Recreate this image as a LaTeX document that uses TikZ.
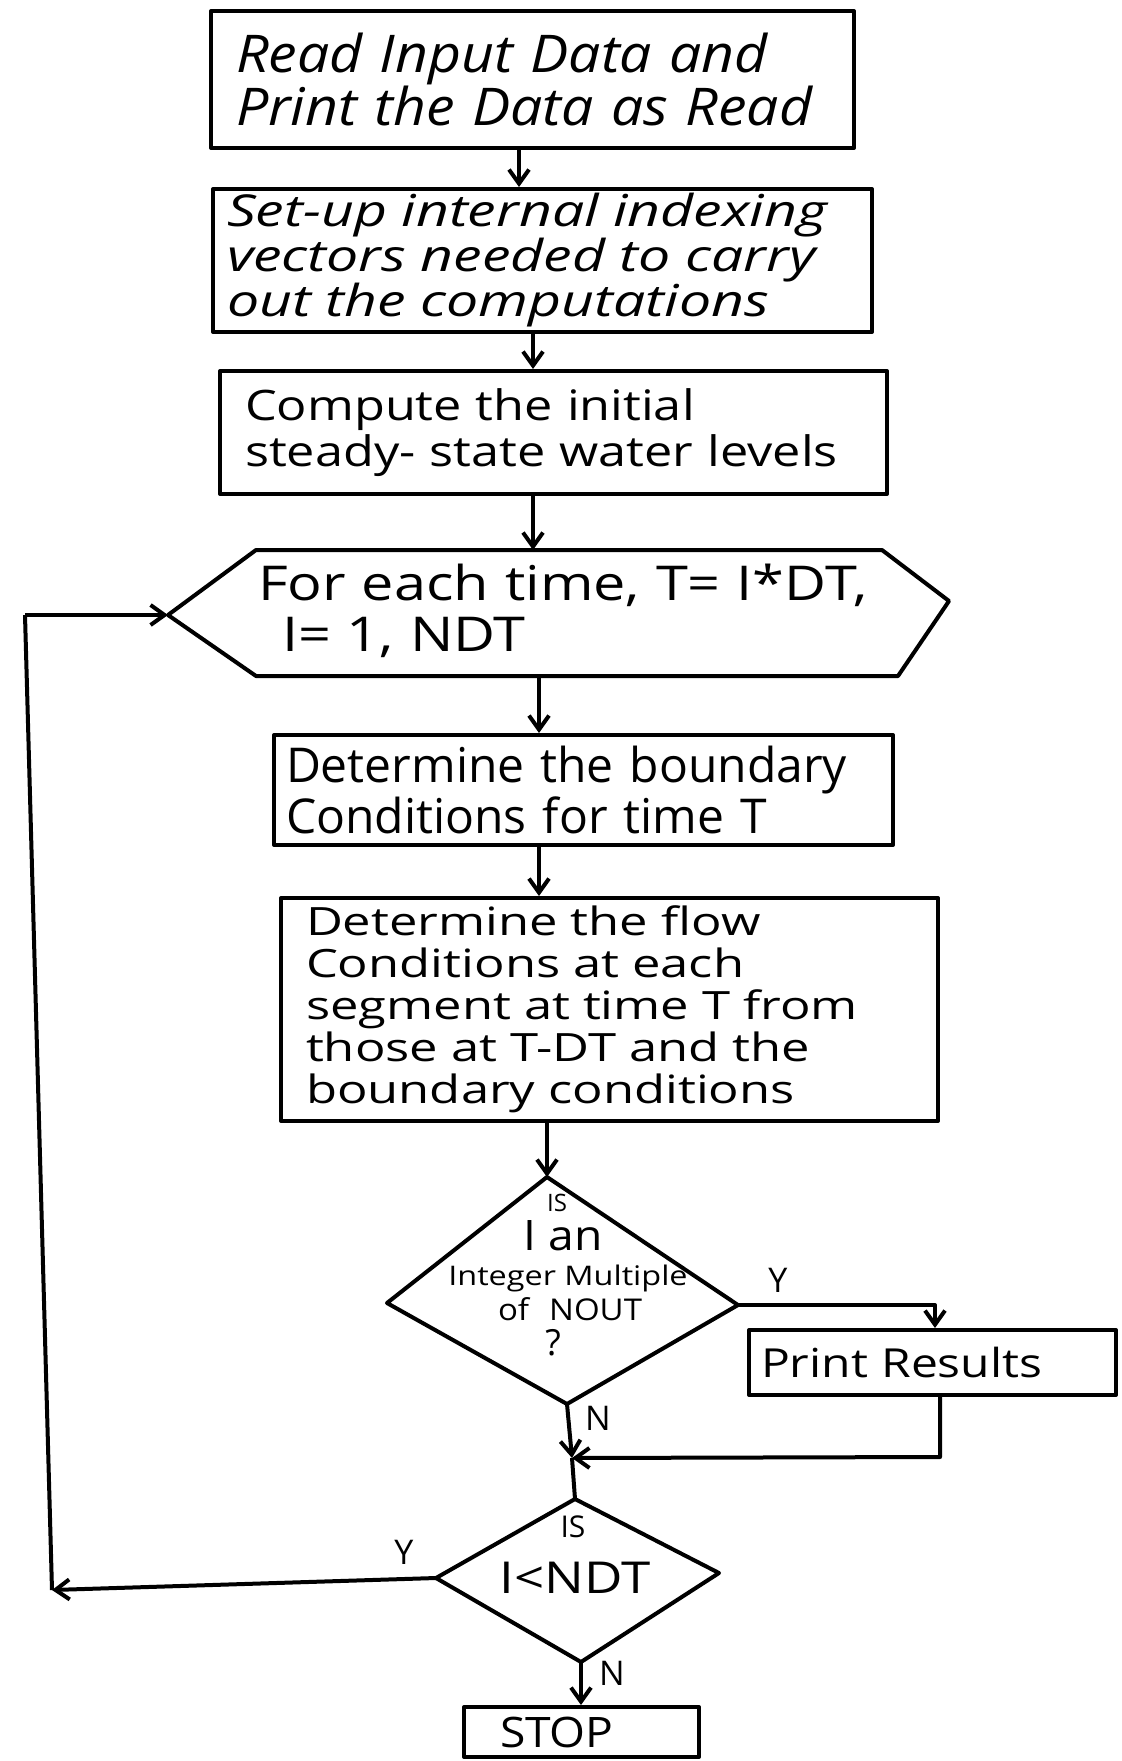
\documentclass[tikz,border=0pt]{standalone}
\usepackage{fontspec}
\setmainfont{Open Sans}
\newfontfamily\wA[FakeStretch=1.1]{Open Sans}
\newfontfamily\wB[FakeStretch=1.2]{Open Sans}
\newfontfamily\wC[FakeStretch=1.3]{Open Sans}
\usetikzlibrary{arrows.meta}
\newcommand{\fsz}[2]{\fontsize{#1}{#2}\selectfont}
\begin{document}
\begin{tikzpicture}[x=0.5pt,y=-0.5pt,
  line width=2pt, line join=round,
  procbox/.style={draw, rectangle, inner sep=0pt, align=left},
  flow/.style={-{Straight Barb[length=7pt,width=10pt]}},
  plain/.style={inner sep=0pt},
  lbl/.style={inner sep=0pt, font=\fsz{17}{17}}
]
\useasboundingbox (0,0) rectangle (1122,1761);

% --- process boxes ---
\node[procbox, minimum width=321.5pt, minimum height=68.5pt, text width=296.5pt,
      font=\wA\itshape\fsz{26}{25.5}] (read) at (532.5,79.5)
  {\mbox{Read Input Data and}\\\mbox{Print the Data as Read}};

\node[procbox, minimum width=329.5pt, minimum height=71.5pt, text width=315.5pt,
      font=\wC\itshape\fsz{22}{22.5}] (setup) at (542.5,260.5)
  {\mbox{Set-up internal indexing}\\\mbox{vectors needed to carry}\\\mbox{out the computations}};

\node[procbox, minimum width=333.5pt, minimum height=61.5pt, text width=308.5pt,
      font=\wB\fsz{21}{23}] (steady) at (553.5,432.5)
  {\mbox{Compute the initial}\\\mbox{steady- state water levels}};

% --- loop header (hexagon) ---
\coordinate (hexW) at (168,615);
\coordinate (hexE) at (949,601);
\coordinate (hexNW) at (256,550);
\coordinate (hexNE) at (882,550);
\coordinate (hexSE) at (898,676);
\coordinate (hexSW) at (256,676);
\draw (hexW) -- (hexNW) -- (hexNE) -- (hexE) -- (hexSE) -- (hexSW) -- cycle;
\node[plain, align=left, text width=310pt, font=\wB\fsz{24}{25.5}] (loop) at (568,611)
  {\mbox{For each time, T= I*DT,}\\\hspace*{12pt}I= 1, NDT};
\coordinate (hexN) at (533,550);
\coordinate (hexS) at (539,676);

\node[procbox, minimum width=309.5pt, minimum height=55pt, text width=297.5pt,
      font=\fsz{24}{22}] (bound) at (583.5,790)
  {\mbox{Determine the boundary}\\\mbox{Conditions for time T}};

\node[procbox, minimum width=328.5pt, minimum height=111.5pt, text width=303.5pt,
      font=\wC\fsz{19.5}{21}] (flowc) at (609.5,1009.5)
  {\mbox{Determine the flow}\\\mbox{Conditions at each}\\\mbox{segment at time T from}\\\mbox{those at T-DT and the}\\\mbox{boundary conditions}};

% --- first decision ---
\coordinate (d1N) at (547,1177);
\coordinate (d1E) at (738,1305);
\coordinate (d1S) at (567,1404);
\coordinate (d1W) at (387,1303);
\draw (d1N) -- (d1E) -- (d1S) -- (d1W) -- cycle;
\node[plain, font=\fsz{12}{12}] (d1a) at (557,1203) {IS};
\node[plain, font=\wA\fsz{21}{21}] (d1b) at (563,1236) {I an};
\node[plain, font=\wB\fsz{13.5}{13.5}] (d1c) at (568,1278) {Integer Multiple};
\node[plain, font=\wA\fsz{15}{15}] (d1d) at (570,1309) {of\hspace{10pt}NOUT};
\node[plain, font=\fsz{18}{18}] (d1e) at (553,1343) {?};

\node[procbox, minimum width=183.5pt, minimum height=32.5pt, text width=171.5pt,
      font=\wB\fsz{20}{20}] (print) at (932.5,1362.5) {Print Results};

% --- second decision ---
\coordinate (d2N) at (575,1499);
\coordinate (d2E) at (719,1573);
\coordinate (d2S) at (581,1662);
\coordinate (d2W) at (436,1578);
\draw (d2N) -- (d2E) -- (d2S) -- (d2W) -- cycle;
\node[plain, font=\fsz{15}{15}] (d2a) at (573,1527) {IS};
\node[plain, font=\wB\fsz{22}{22}] (d2b) at (575,1578) {I<NDT};

\node[procbox, minimum width=117.5pt, minimum height=25pt, text width=81.5pt,
      font=\wA\fsz{21}{21}] (stop) at (581.5,1732) {STOP};

% --- connectors ---
\coordinate (a1) at (519,0);
\coordinate (a2) at (533,0);
\coordinate (a4) at (539,0);
\coordinate (a6) at (547,0);
\draw[flow] (read.south -| a1) -- (setup.north -| a1);
\draw[flow] (setup.south -| a2) -- (steady.north -| a2);
\draw[flow] (steady.south -| a2) -- (hexN);
\draw[flow] (hexS) -- (bound.north -| a4);
\draw[flow] (bound.south -| a4) -- (flowc.north -| a4);
\draw[flow] (flowc.south -| a6) -- (d1N);

% yes branch: print, then rejoin
\coordinate (yturn) at (935,1305);
\coordinate (prOut) at (940,1457);
\coordinate (merge) at (572,1458);
\draw[flow] (d1E) -- (yturn) -- (yturn |- print.north);
\draw[flow] (print.south -| prOut) -- (prOut) -- (merge);
\draw[flow] (d1S) -- (merge);
\draw (merge) -- (d2N);
\draw[flow] (d2S) -- (stop.north -| d2S);

% repeat loop back to the header
\coordinate (backB) at (52,1590);
\coordinate (backT) at (25,615);
\draw[flow] (d2W) -- (backB);
\draw (backB) -- (backT);
\draw[flow] (backT) -- (hexW);

% branch labels
\node[lbl] (y1) at (778,1280) {Y};
\node[lbl] (n1) at (598,1418) {N};
\node[lbl] (y2) at (404,1552) {Y};
\node[lbl] (n2) at (612,1673) {N};
\end{tikzpicture}
\end{document}
